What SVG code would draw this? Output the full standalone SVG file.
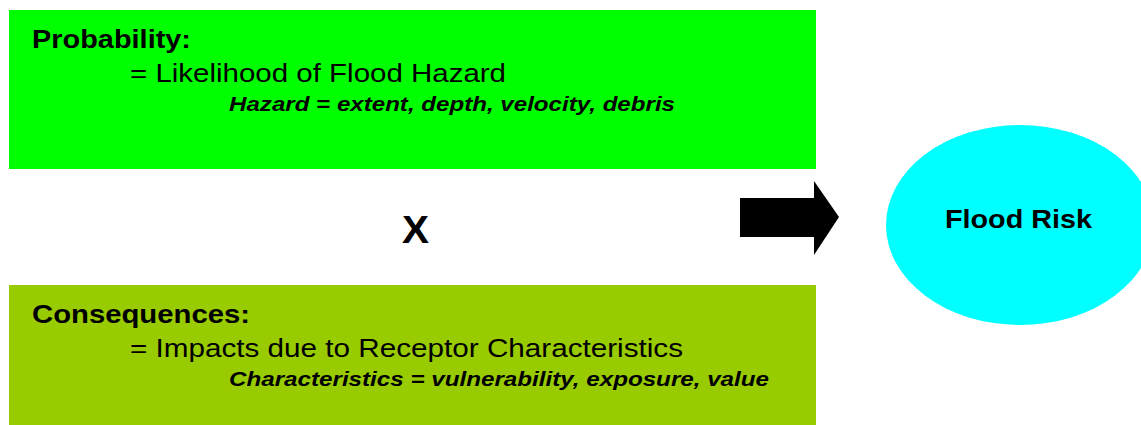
<svg xmlns="http://www.w3.org/2000/svg" width="1141" height="425" viewBox="0 0 1141 425">
  <style>
    text { font-family: "Liberation Sans", Arial, sans-serif; fill: #000; }
    .head { font-size: 26px; font-weight: bold; }
    .line { font-size: 26px; }
    .note { font-size: 21px; font-weight: bold; font-style: italic; }
    .op { font-size: 38px; font-weight: bold; }
  </style>

  <rect width="1141" height="425" fill="#ffffff"/>

  <!-- Probability box -->
  <g id="probability">
    <rect x="9" y="10" width="807" height="159" fill="#00ff00"/>
    <text class="head" x="32" y="48" textLength="159" lengthAdjust="spacingAndGlyphs">Probability:</text>
    <text class="line" x="130" y="82" textLength="376" lengthAdjust="spacingAndGlyphs">= Likelihood of Flood Hazard</text>
    <text class="note" x="229" y="111" textLength="446" lengthAdjust="spacingAndGlyphs">Hazard = extent, depth, velocity, debris</text>
  </g>

  <!-- multiplication sign -->
  <g id="times">
    <text class="op" x="402" y="243" textLength="27" lengthAdjust="spacingAndGlyphs">X</text>
  </g>

  <!-- Consequences box -->
  <g id="consequences">
    <rect x="9" y="285" width="807" height="140" fill="#99cc00"/>
    <text class="head" x="32" y="323" textLength="218" lengthAdjust="spacingAndGlyphs">Consequences:</text>
    <text class="line" x="130" y="357" textLength="553" lengthAdjust="spacingAndGlyphs">= Impacts due to Receptor Characteristics</text>
    <text class="note" x="229" y="386" textLength="540" lengthAdjust="spacingAndGlyphs">Characteristics = vulnerability, exposure, value</text>
  </g>

  <!-- Result -->
  <g id="flood-risk">
    <ellipse cx="1020" cy="225" rx="134" ry="100" fill="#00ffff"/>
    <text class="head" x="945" y="228" textLength="147" lengthAdjust="spacingAndGlyphs">Flood Risk</text>
  </g>

  <!-- block arrow -->
  <g id="connectors">
    <polygon points="740,198 814,198 814,181 839,217 814,255 814,237 740,237" fill="#000"/>
  </g>
</svg>
